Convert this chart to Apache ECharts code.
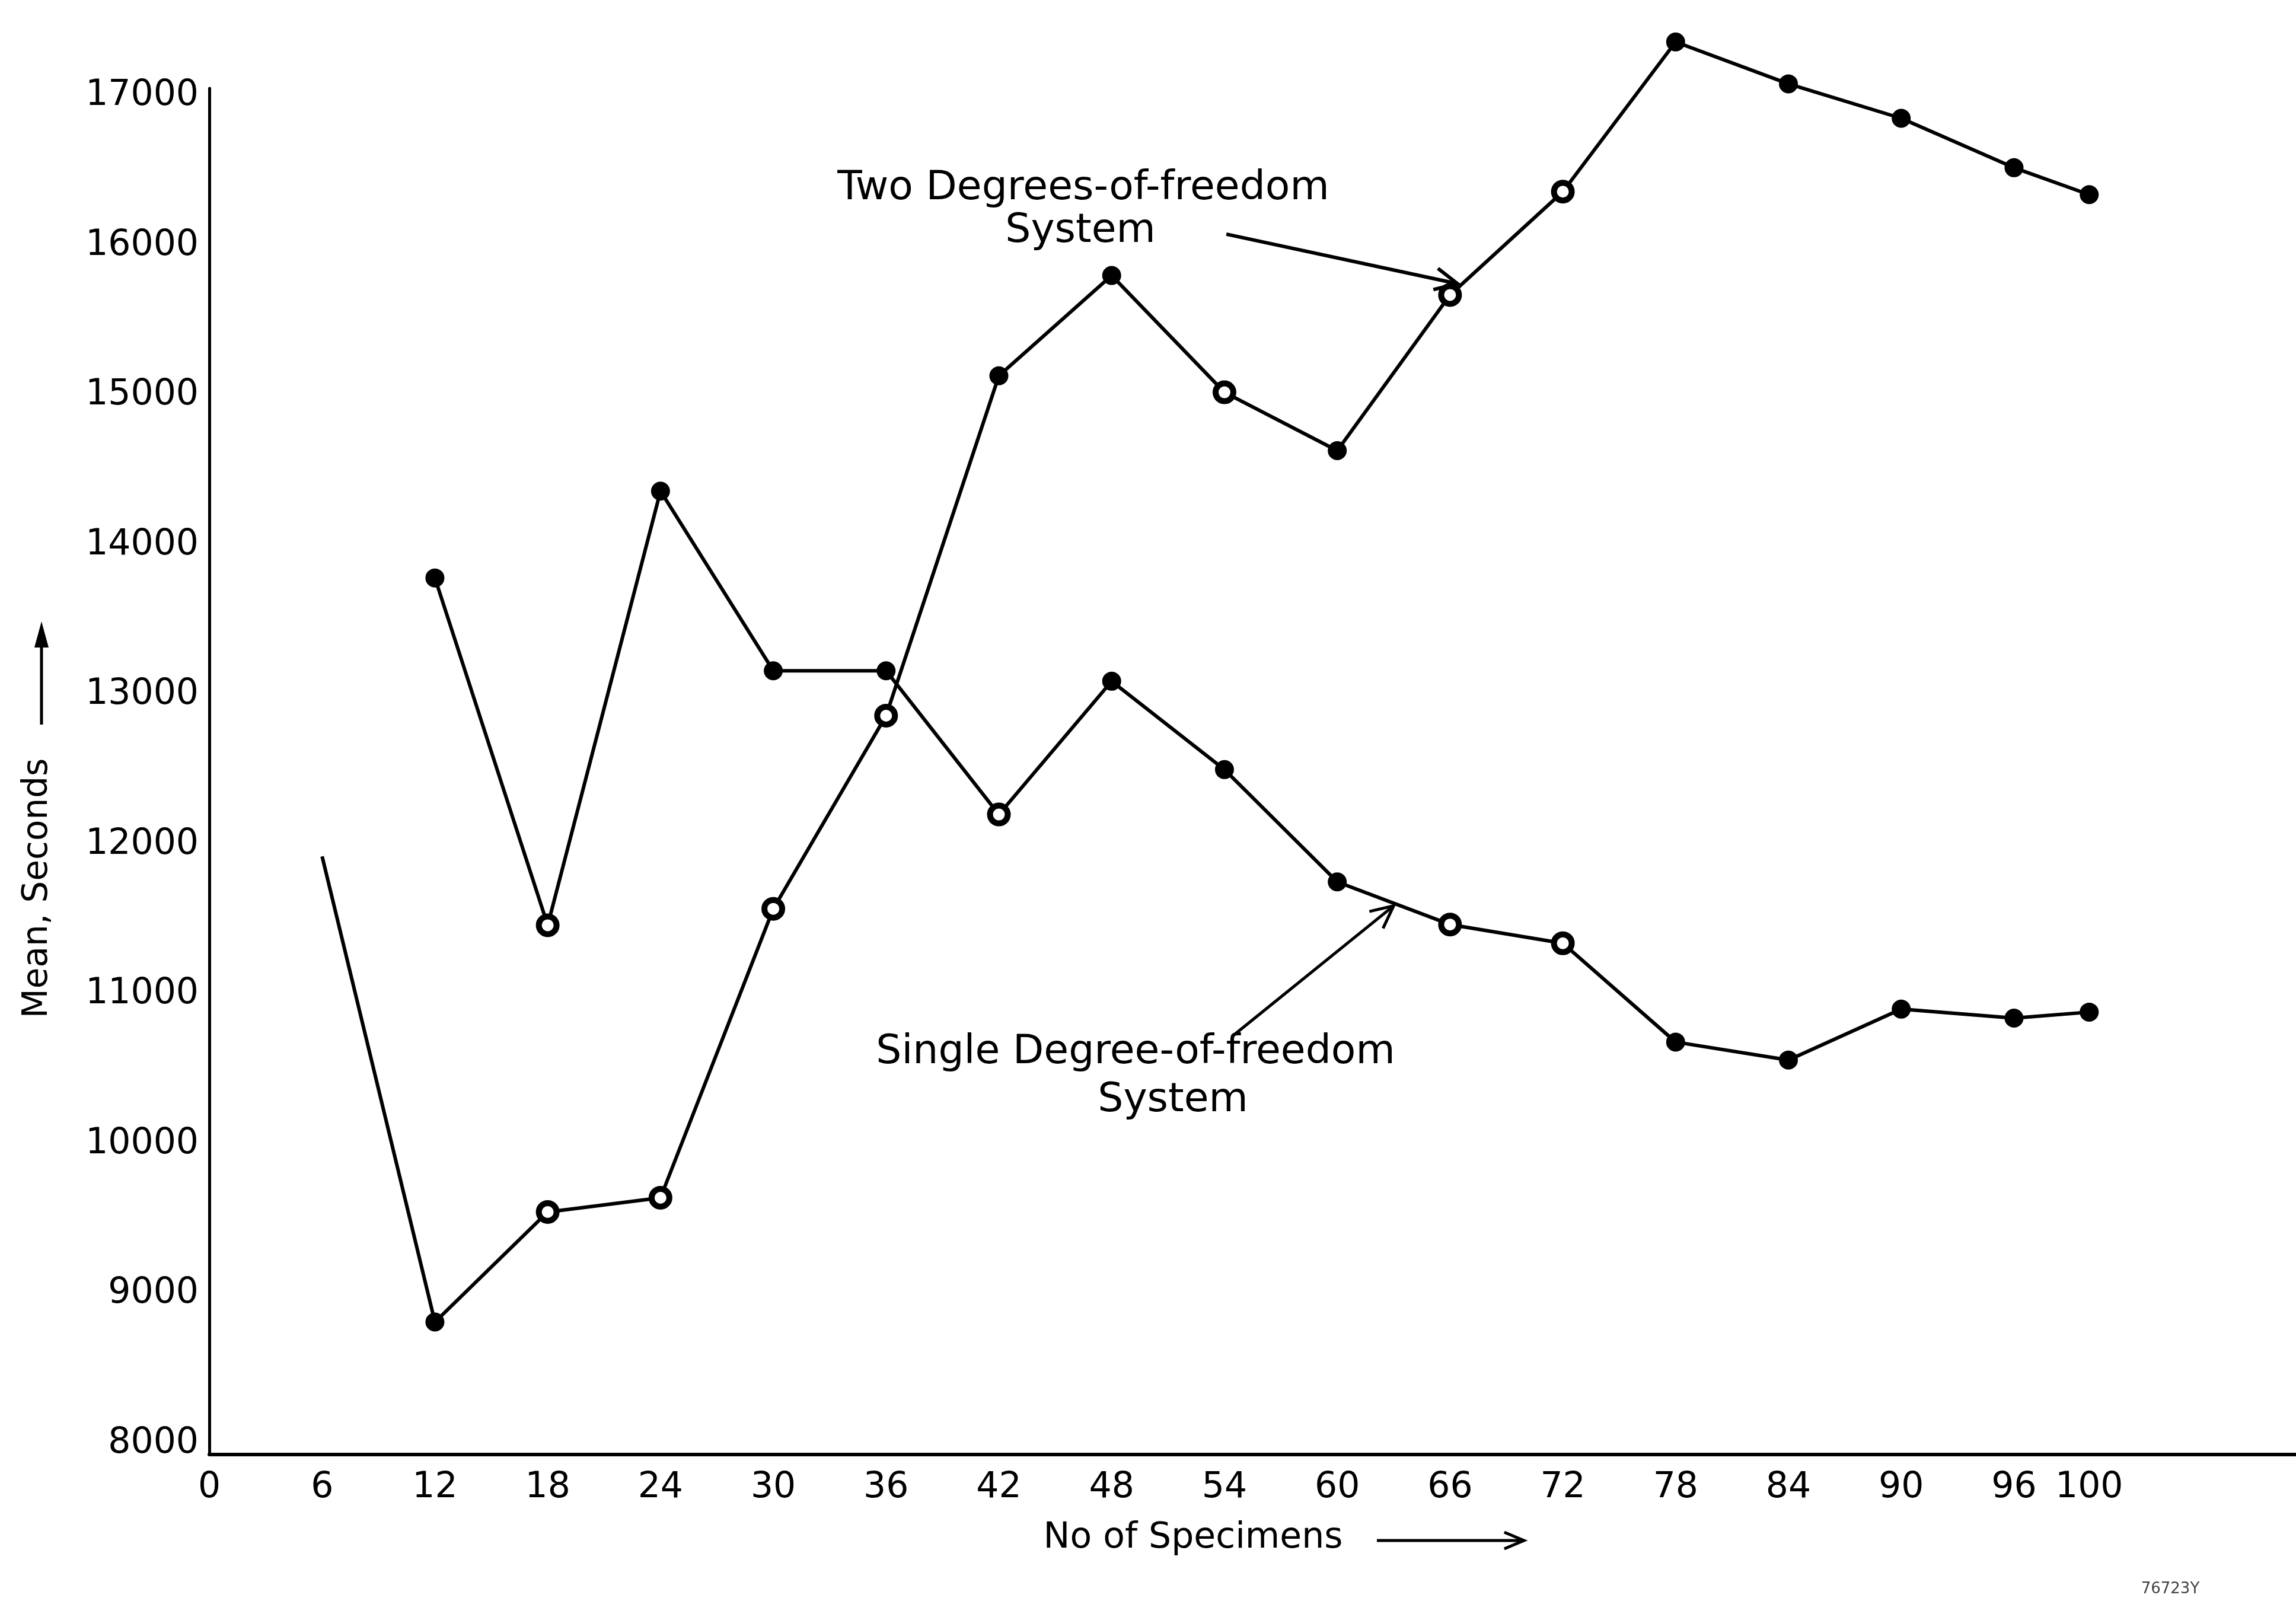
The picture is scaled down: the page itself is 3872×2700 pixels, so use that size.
<!DOCTYPE html>
<html><head><meta charset="utf-8">
<script src="https://cdn.jsdelivr.net/npm/echarts@6/dist/echarts.min.js"></script>
<style>html,body{margin:0;padding:0;background:#fff}#c{width:3872px;height:2700px}</style>
</head><body><div id="c"></div>
<script>
// ---- data ----
const xTickValues = [0, 6, 12, 18, 24, 30, 36, 42, 48, 54, 60, 66, 72, 78, 84, 90, 96, 100];
const yTickValues = [8000, 9000, 10000, 11000, 12000, 13000, 14000, 15000, 16000, 17000];

const twoDofX = [6, 12, 18, 24, 30, 36, 42, 48, 54, 60, 66, 72, 78, 84, 90, 96, 100];
const twoDofY = [11920, 8810, 9545, 9640, 11570, 12860, 15130, 15800, 15020, 14630, 15670, 16360, 17360, 17080, 16850, 16520, 16340];

const singleDofX = [12, 18, 24, 30, 36, 42, 48, 54, 60, 66, 72, 78, 84, 90, 96, 100];
const singleDofY = [13780, 11460, 14360, 13160, 13160, 12200, 13090, 12500, 11750, 11465, 11340, 10680, 10560, 10900, 10840, 10880];

// points drawn as open (ring) markers in the original
const twoOpenX = [18, 24, 30, 36, 54, 66, 72];
const singleOpenX = [18, 42, 66, 72];

const xAxisTitle = 'No of Specimens';
const yAxisTitle = 'Mean, Seconds';
const twoLabel = ['Two Degrees-of-freedom', 'System'];
const singleLabel = ['Single Degree-of-freedom', 'System'];

// ---- chart ----
const FONT = 'DejaVu Sans';
const chart = echarts.init(document.getElementById('c'), null, { renderer: 'canvas' });

function buildData(xs, ys, openXs, hideFirst) {
  return xs.map((x, i) => {
    const open = openXs.indexOf(x) >= 0;
    const item = { value: [x, ys[i]] };
    if (hideFirst && i === 0) {
      item.symbolSize = 0;
    } else if (open) {
      item.itemStyle = { color: '#fff', borderColor: '#000', borderWidth: 10 };
    } else {
      item.itemStyle = { color: '#000', borderColor: '#000', borderWidth: 2 };
    }
    return item;
  });
}

function lineSeries(name, data) {
  return {
    name, type: 'line', data, clip: false, animation: false,
    symbol: 'circle', symbolSize: 30, showAllSymbol: true,
    lineStyle: { color: '#000', width: 6 },
    itemStyle: { color: '#000' },
    emphasis: { disabled: true }
  };
}

const option = {
  backgroundColor: '#fff',
  animation: false,
  grid: { left: 353, right: 0, top: 149, bottom: 247, containLabel: false, outerBoundsMode: 'none' },
  xAxis: {
    type: 'value', min: 0, max: 111,
    axisLine: { show: true, lineStyle: { color: '#000', width: 6 } },
    axisTick: { show: false },
    splitLine: { show: false },
    axisLabel: {
      customValues: xTickValues, margin: 26, color: '#000',
      fontFamily: FONT, fontSize: 60, formatter: v => String(v)
    }
  },
  yAxis: {
    type: 'value', min: 7925, max: 17050,
    axisLine: { show: true, lineStyle: { color: '#000', width: 5 } },
    axisTick: { show: false },
    splitLine: { show: false },
    axisLabel: {
      customValues: yTickValues, margin: 18, color: '#000',
      fontFamily: FONT, fontSize: 60, formatter: v => String(v)
    }
  },
  series: [
    lineSeries('Two Degrees-of-freedom System', buildData(twoDofX, twoDofY, twoOpenX, true)),
    lineSeries('Single Degree-of-freedom System', buildData(singleDofX, singleDofY, singleOpenX, false))
  ]
};
chart.setOption(option);

// ---- annotations ----
function px(x, y) { return chart.convertToPixel({ gridIndex: 0 }, [x, y]); }

function openArrow(p1, p2, len, ang, w) {
  const a = Math.atan2(p2[1] - p1[1], p2[0] - p1[0]);
  const b1 = [p2[0] - len * Math.cos(a - ang), p2[1] - len * Math.sin(a - ang)];
  const b2 = [p2[0] - len * Math.cos(a + ang), p2[1] - len * Math.sin(a + ang)];
  return [
    { type: 'line', shape: { x1: p1[0], y1: p1[1], x2: p2[0], y2: p2[1] }, style: { stroke: '#000', lineWidth: w } },
    { type: 'polyline', shape: { points: [b1, p2, b2] }, style: { stroke: '#000', lineWidth: w, fill: null } }
  ];
}

function textEl(str, x, y, size, extra) {
  return {
    type: 'text', x, y,
    style: Object.assign({ text: str, fill: '#000', font: size + 'px "' + FONT + '"', align: 'center', verticalAlign: 'middle' }, extra || {})
  };
}

const g = [];
// Two DOF label and arrow
g.push(textEl(twoLabel[0], 1827, 318, 68));
g.push(textEl(twoLabel[1], 1822, 390, 68));
g.push(...openArrow(px(54.1, 16076), px(66.4, 15745), 42, 0.45, 6));
// Single DOF label and arrow
g.push(textEl(singleLabel[0], 1915, 1775, 68));
g.push(textEl(singleLabel[1], 1978, 1856, 68));
g.push(...openArrow(px(54.4, 10717), px(63.0, 11590), 42, 0.45, 5));
// x axis title with arrow
g.push(textEl(xAxisTitle, 2012, 2594, 60));
g.push(...openArrow([2322, 2598], [2570, 2598], 36, 0.4, 5));
// y axis title (rotated) with arrow
g.push({
  type: 'text', x: 64, y: 1498, rotation: Math.PI / 2,
  style: { text: yAxisTitle, fill: '#000', font: '58px "' + FONT + '"', align: 'center', verticalAlign: 'middle' }
});
g.push({ type: 'line', shape: { x1: 70, y1: 1222, x2: 70, y2: 1080 }, style: { stroke: '#000', lineWidth: 5 } });
g.push({ type: 'polygon', shape: { points: [[70, 1048], [58, 1092], [82, 1092]] }, style: { fill: '#000' } });
// figure id
g.push(textEl('76723Y', 3660, 2680, 26, { fill: '#444', fontStyle: 'italic' }));

chart.setOption({ graphic: { elements: g } });
</script>
</body></html>
